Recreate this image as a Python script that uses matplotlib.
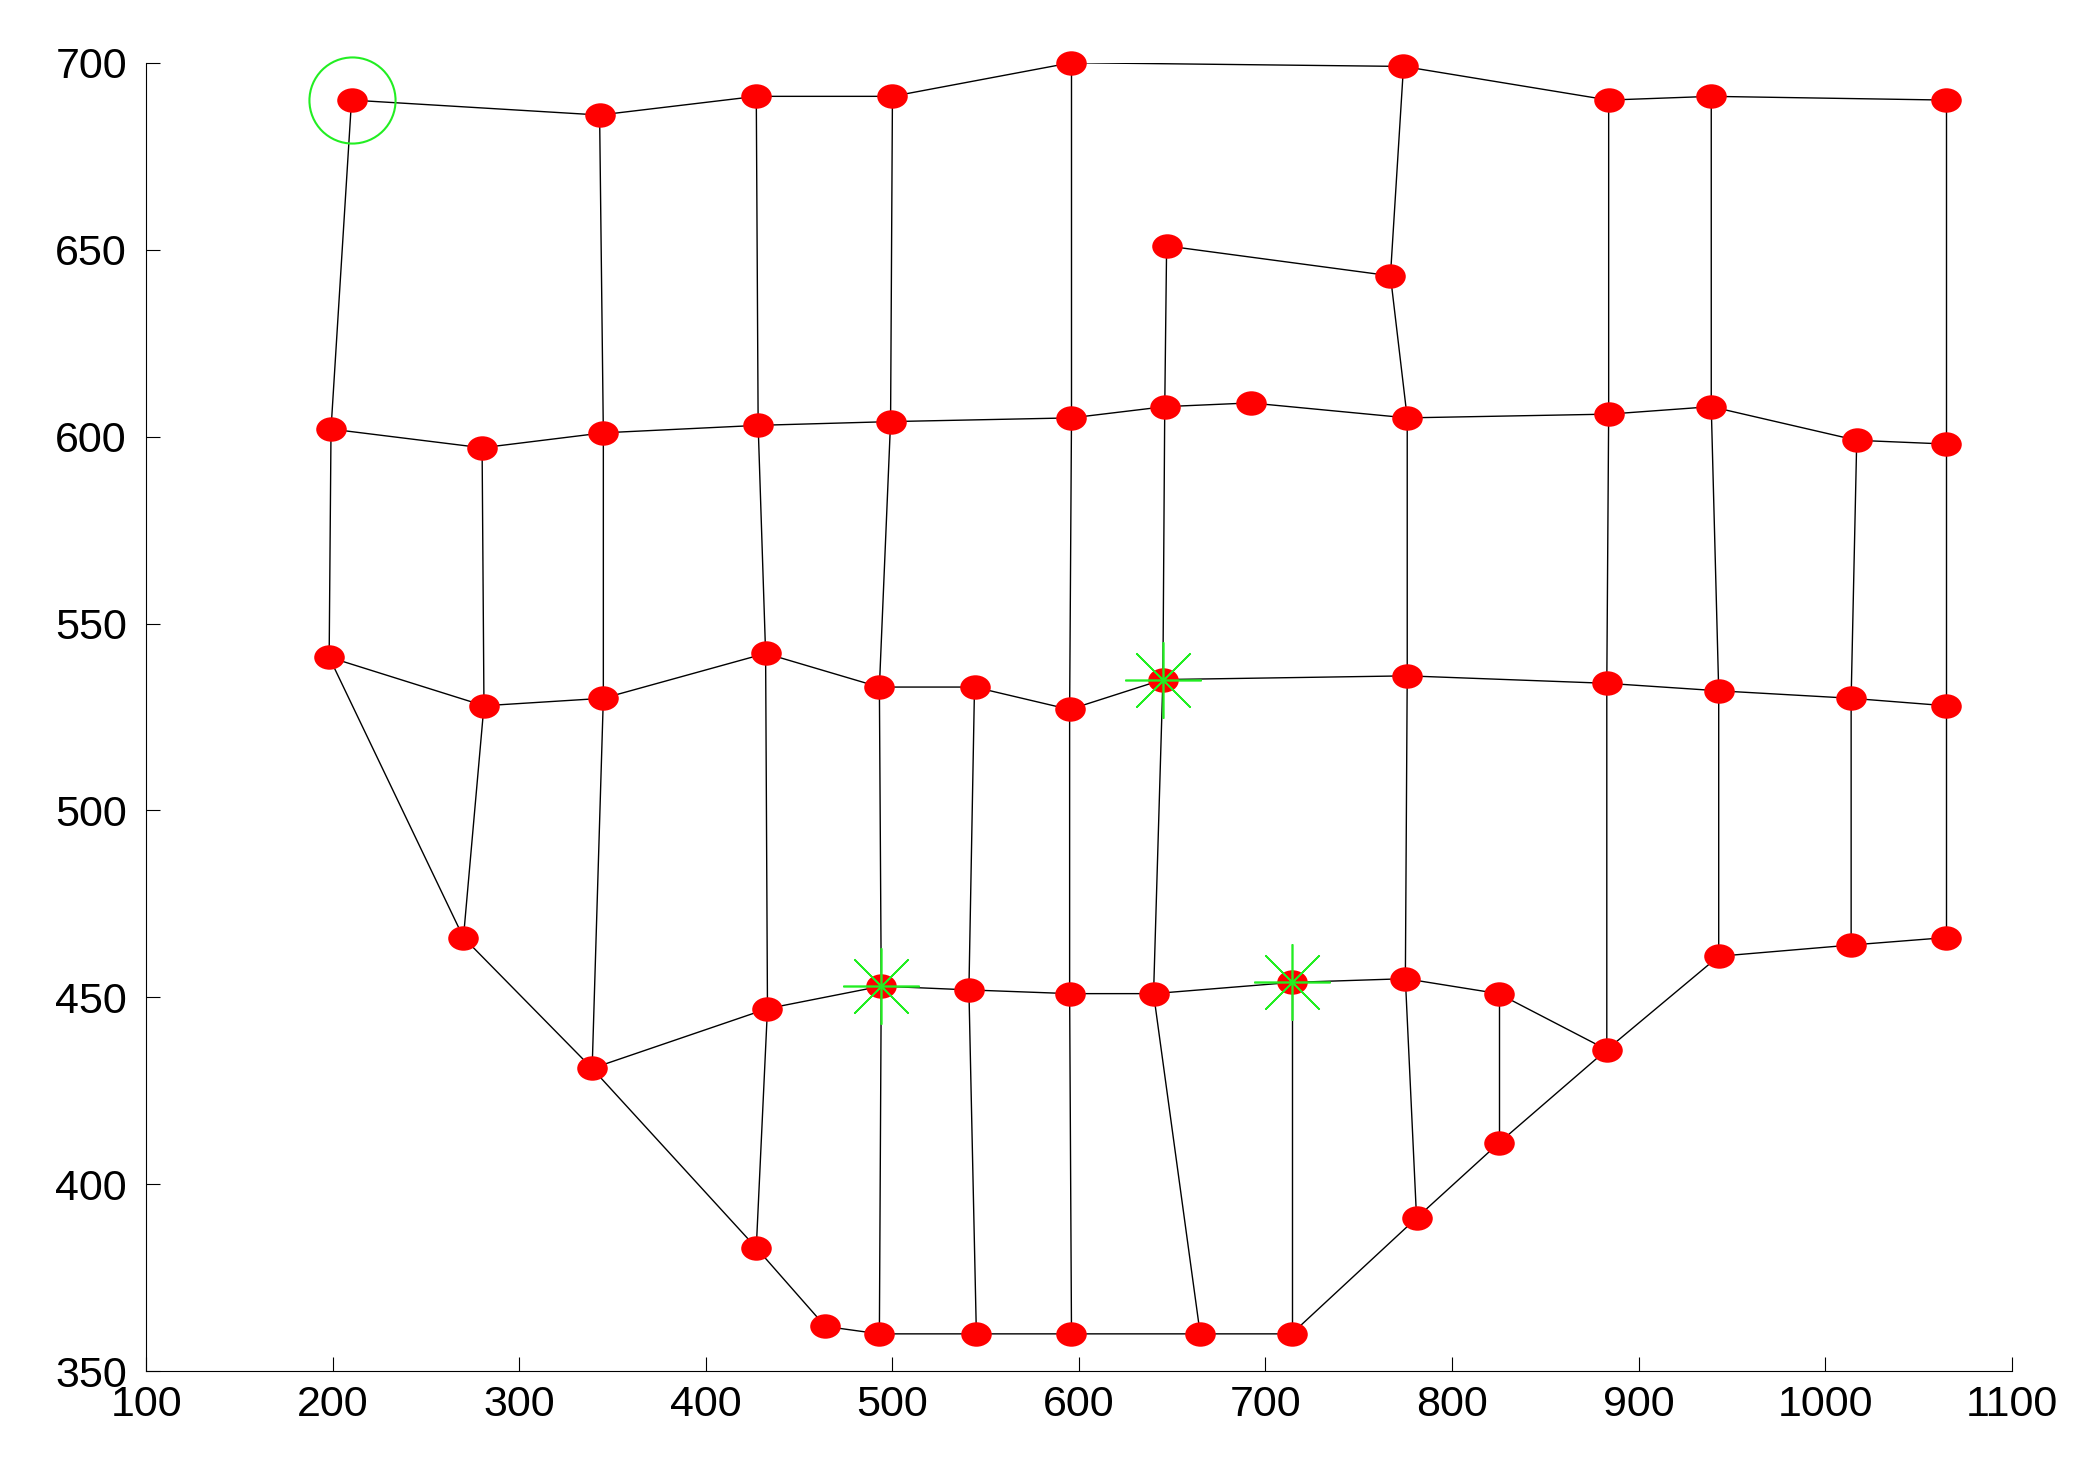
import matplotlib
matplotlib.use("Agg")
import matplotlib.pyplot as plt
from matplotlib.path import Path
from matplotlib.transforms import Affine2D

nodes = {
 'A1':(210,690),'A2':(343,686),'A3':(427,691),'A4':(500,691),'A5':(596,700),'A6':(774,699),
 'A7':(884,690),'A8':(939,691),'A9':(1065,690),
 'B1':(647,651),'B2':(767,643),
 'C1':(199,602),'C2':(280,597),'C3':(345,601),'C4':(428,603),'C5':(499,604),'C6':(596,605),
 'C7':(646,608),'C7b':(692,609),'C8':(776,605),'C9':(884,606),'C10':(939,608),'C11':(1017,599),'C12':(1065,598),
 'D1':(198,541),'D2':(281,528),'D3':(345,530),'D4':(432,542),'D5':(493,533),'D6':(544,533),'D7':(595,527),
 'D8':(645,535),'D9':(776,536),'D10':(883,534),'D11':(943,532),'D12':(1014,530),'D13':(1065,528),
 'E1':(270,466),'E2':(339,431),'E3':(433,447),'E4':(494,453),'E5':(541,452),'E6':(595,451),'E7':(640,451),
 'E8':(714,454),'E9':(775,455),'E10':(825,451),'E11':(883,436),'E12':(943,461),'E13':(1014,464),'E14':(1065,466),
 'F1':(427,383),'F2':(464,362),'F3':(493,360),'F4':(545,360),'F5':(596,360),'F6':(665,360),'F7':(714,360),
 'H':(781,391),'G':(825,411),
}
chains = [
 ['A1','A2','A3','A4','A5','A6','A7','A8','A9'],
 ['B1','B2'],
 ['C1','C2','C3','C4','C5','C6','C7','C7b','C8','C9','C10','C11','C12'],
 ['D1','D2','D3','D4','D5','D6','D7','D8','D9','D10','D11','D12','D13'],
 ['E2','E3','E4','E5','E6','E7','E8','E9','E10','E11'],
 ['D1','E1','E2','F1','F2','F3','F4','F5','F6','F7','H','G','E11','E12','E13','E14'],
 ['A1','C1','D1'],['A2','C3','D3','E2'],['A3','C4','D4','E3','F1'],['A4','C5','D5','E4','F3'],
 ['A5','C6','D7','E6','F5'],['A6','B2','C8','D9','E9','H'],['B1','C7','D8','E7','F6'],
 ['A7','C9','D10','E11'],['A8','C10','D11','E12'],['A9','C12','D13','E14'],
 ['C2','D2','E1'],['C11','D12','E13'],['D6','E5','F4'],['E8','F7'],['E10','G'],
]
stars = ['D8','E4','E8']
circled = 'A1'

ellipse = Path.unit_circle().transformed(Affine2D().scale(1.0, 0.8))

fig = plt.figure(figsize=(20.91,14.58), dpi=100)
ax = fig.add_axes([0.070,0.0595,0.892,0.8975])
for ch in chains:
    ax.plot([nodes[n][0] for n in ch],[nodes[n][1] for n in ch],color='black',lw=1.0,zorder=1)
ax.plot([v[0] for v in nodes.values()],[v[1] for v in nodes.values()],marker=ellipse,ls='none',color='red',
        markersize=22,markeredgewidth=0,zorder=2,clip_on=False)
ax.plot([nodes[n][0] for n in stars],[nodes[n][1] for n in stars],marker=(8,2,0),ls='none',
        color='#22ee22',markersize=55,markeredgewidth=1.2,zorder=3,clip_on=False)
ax.plot([nodes[circled][0]],[nodes[circled][1]],'o',mfc='none',mec='#22ee22',markersize=62,mew=1.5,zorder=3,clip_on=False)
ax.set_xlim(100,1100); ax.set_ylim(350,700)
ax.set_xticks(range(100,1101,100)); ax.set_yticks(range(350,701,50))
ax.spines['top'].set_visible(False); ax.spines['right'].set_visible(False)
ax.tick_params(direction='in',length=10,labelsize=31)
ax.tick_params(axis='x',pad=10)
ax.tick_params(axis='y',pad=14)
for l in ax.get_xticklabels()+ax.get_yticklabels():
    l.set_family('Liberation Sans')
fig.savefig('out.png',dpi=100)
